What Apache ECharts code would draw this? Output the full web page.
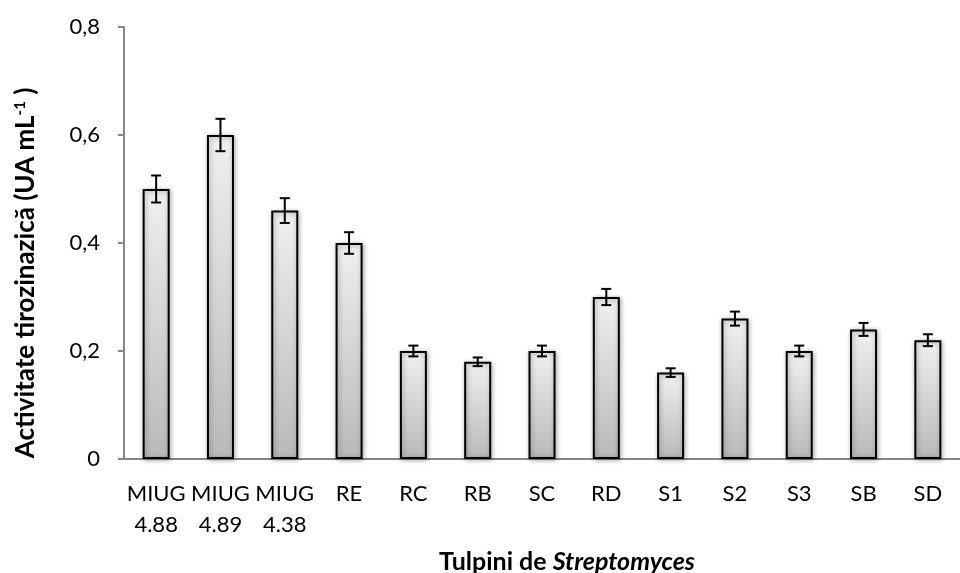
<!DOCTYPE html>
<html>
<head>
<meta charset="utf-8">
<script src="https://cdn.jsdelivr.net/npm/echarts@6/dist/echarts.min.js"></script>
<style>
  html, body { margin: 0; padding: 0; background: #fff; }
  #chart { width: 960px; height: 573px; }
</style>
</head>
<body>
<div id="chart"></div>
<script>
// Strains on the category axis
const strains = ['MIUG\n4.88', 'MIUG\n4.89', 'MIUG\n4.38', 'RE', 'RC', 'RB', 'SC', 'RD', 'S1', 'S2', 'S3', 'SB', 'SD'];
// Tyrosinase activity (UA/mL)
const activity = [0.50, 0.60, 0.46, 0.40, 0.20, 0.18, 0.20, 0.30, 0.16, 0.26, 0.20, 0.24, 0.22];
// Standard deviation for each strain
const deviation = [0.025, 0.030, 0.023, 0.020, 0.010, 0.008, 0.010, 0.015, 0.008, 0.013, 0.010, 0.012, 0.011];
// Value axis ticks
const yTicks = [0, 0.2, 0.4, 0.6, 0.8];

const errorData = activity.map((v, i) => [i, v - deviation[i], v + deviation[i]]);

const FONT = 'Lato, "Open Sans", sans-serif';

const chart = echarts.init(document.getElementById('chart'), null, { renderer: 'canvas' });

chart.setOption({
  animation: false,
  backgroundColor: '#ffffff',
  grid: { left: 124, top: 27, width: 848, height: 432, containLabel: false },
  xAxis: {
    type: 'category',
    data: strains,
    axisLine: { show: true, lineStyle: { color: '#868686', width: 2 } },
    axisTick: { show: false },
    axisLabel: {
      color: '#000', fontFamily: FONT, fontSize: 22, lineHeight: 31,
      margin: 19, interval: 0
    }
  },
  yAxis: {
    type: 'value',
    min: yTicks[0],
    max: yTicks[yTicks.length - 1],
    interval: 0.2,
    axisLine: { show: true, lineStyle: { color: '#868686', width: 2 } },
    axisTick: { show: true, inside: false, length: 6, lineStyle: { color: '#868686', width: 2 } },
    splitLine: { show: false },
    axisLabel: {
      color: '#000', fontFamily: FONT, fontSize: 22, margin: 24,
      formatter: v => (v === 0 ? '0' : v.toFixed(1).replace('.', ','))
    }
  },
  series: [
    {
      type: 'bar',
      data: activity,
      barWidth: 27,
      itemStyle: {
        color: new echarts.graphic.LinearGradient(0, 0, 0, 1, [
          { offset: 0, color: '#f0f0f0' },
          { offset: 1, color: '#b9b9b9' }
        ]),
        borderColor: '#000',
        borderWidth: 2,
        shadowColor: 'rgba(0,0,0,0.35)',
        shadowBlur: 5,
        shadowOffsetX: 1,
        shadowOffsetY: 1
      },
      z: 2
    },
    {
      type: 'custom',
      data: errorData,
      z: 5,
      renderItem: function (params, api) {
        const x = api.value(0);
        const lo = api.coord([x, api.value(1)]);
        const hi = api.coord([x, api.value(2)]);
        const half = 5;
        const style = { stroke: '#000', lineWidth: 2 };
        return {
          type: 'group',
          children: [
            { type: 'line', shape: { x1: hi[0], y1: hi[1], x2: lo[0], y2: lo[1] }, style },
            { type: 'line', shape: { x1: hi[0] - half, y1: hi[1], x2: hi[0] + half, y2: hi[1] }, style },
            { type: 'line', shape: { x1: lo[0] - half, y1: lo[1], x2: lo[0] + half, y2: lo[1] }, style }
          ]
        };
      }
    }
  ],
  graphic: [
    {
      type: 'text',
      x: 26,
      y: 273,
      rotation: Math.PI / 2,
      style: {
        text: '{t|Activitate tirozinazică (UA mL}{s|-1}{t| )}',
        align: 'center',
        verticalAlign: 'middle',
        rich: {
          t: { fontFamily: FONT, fontWeight: 'bold', fontSize: 26, fill: '#000' },
          s: { fontFamily: FONT, fontWeight: 'bold', fontSize: 15, fill: '#000', verticalAlign: 'top', padding: [0, 0, 11, 0] }
        }
      }
    },
    {
      type: 'text',
      x: 567,
      y: 562,
      style: {
        text: '{b|Tulpini de }{i|Streptomyces}',
        align: 'center',
        verticalAlign: 'middle',
        rich: {
          b: { fontFamily: FONT, fontWeight: 'bold', fontSize: 25, fill: '#000' },
          i: { fontFamily: FONT, fontWeight: 'bold', fontStyle: 'italic', fontSize: 25, fill: '#000' }
        }
      }
    }
  ]
});
</script>
</body>
</html>
